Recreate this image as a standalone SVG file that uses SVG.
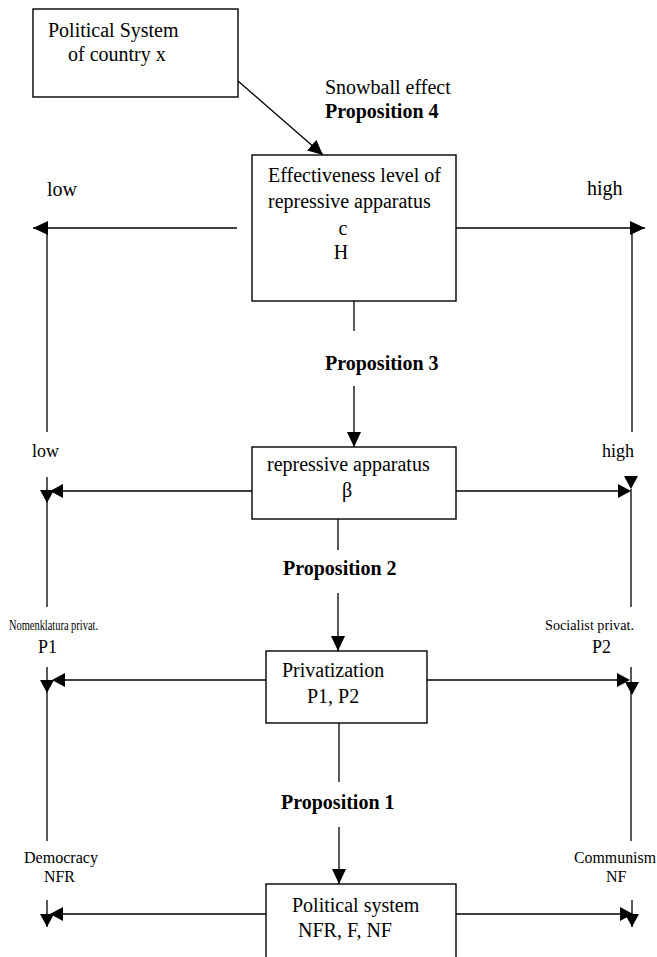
<svg xmlns="http://www.w3.org/2000/svg" xmlns:xlink="http://www.w3.org/1999/xlink" width="657" height="957" viewBox="0 0 657 957">
<style>
  .bx{fill:#fff;stroke:#000;stroke-width:1.4}
  .ln{fill:none;stroke:#000;stroke-width:1.3}
  .t{font-family:"Liberation Serif","Times New Roman",serif;font-size:20px;fill:#000}
  .b{font-weight:bold}
  .s18{font-size:18px}
  .s16{font-size:16px}
  .s14{font-size:14px}
  .tri{fill:#000}
</style>
<defs>
  <marker id="ah" viewBox="0 0 15 14" refX="15" refY="7" markerWidth="15" markerHeight="14" markerUnits="userSpaceOnUse" orient="auto">
    <path d="M0,0 L15,7 L0,14 Z" fill="#000"/>
  </marker>
  <path id="tri" d="M0,0 L-13,-7 L-13,7 Z"/>
</defs>

<g id="connectors">
  <line class="ln" x1="238" y1="81" x2="323" y2="155" marker-end="url(#ah)"/>
  <!-- row 1 -->
  <line class="ln" x1="237" y1="228" x2="33" y2="228" marker-end="url(#ah)"/>
  <line class="ln" x1="47" y1="228" x2="47" y2="432"/>
  <line class="ln" x1="456" y1="228" x2="645" y2="228" marker-end="url(#ah)"/>
  <line class="ln" x1="632" y1="228" x2="632" y2="432"/>
  <!-- center verticals -->
  <line class="ln" x1="354" y1="301" x2="354" y2="331"/>
  <line class="ln" x1="354" y1="386" x2="354" y2="447" marker-end="url(#ah)"/>
  <line class="ln" x1="338" y1="519" x2="338" y2="550"/>
  <line class="ln" x1="338" y1="593" x2="338" y2="651" marker-end="url(#ah)"/>
  <line class="ln" x1="339" y1="723" x2="339" y2="782"/>
  <line class="ln" x1="339" y1="827" x2="339" y2="884" marker-end="url(#ah)"/>
  <!-- row 2 -->
  <line class="ln" x1="252" y1="491" x2="60" y2="491"/>
  <line class="ln" x1="47" y1="477" x2="47" y2="607"/>
  <use xlink:href="#tri" class="tri" transform="translate(50,491) rotate(180)"/>
  <use xlink:href="#tri" class="tri" transform="translate(47,503) rotate(90)"/>
  <line class="ln" x1="456" y1="491" x2="620" y2="491"/>
  <line class="ln" x1="631" y1="489" x2="631" y2="607"/>
  <use xlink:href="#tri" class="tri" transform="translate(631,491)"/>
  <use xlink:href="#tri" class="tri" transform="translate(631,489) rotate(90)"/>
  <!-- row 3 -->
  <line class="ln" x1="266" y1="680" x2="60" y2="680"/>
  <line class="ln" x1="47" y1="667" x2="47" y2="841"/>
  <use xlink:href="#tri" class="tri" transform="translate(52,680) rotate(180)"/>
  <use xlink:href="#tri" class="tri" transform="translate(47,693) rotate(90)"/>
  <line class="ln" x1="427" y1="680" x2="620" y2="680"/>
  <line class="ln" x1="631" y1="667" x2="631" y2="841"/>
  <use xlink:href="#tri" class="tri" transform="translate(630,680)"/>
  <use xlink:href="#tri" class="tri" transform="translate(632,695) rotate(90)"/>
  <!-- row 4 -->
  <line class="ln" x1="266" y1="914" x2="60" y2="914"/>
  <line class="ln" x1="47" y1="900" x2="47" y2="927"/>
  <use xlink:href="#tri" class="tri" transform="translate(50,914) rotate(180)"/>
  <use xlink:href="#tri" class="tri" transform="translate(47,927) rotate(90)"/>
  <line class="ln" x1="456" y1="914" x2="622" y2="914"/>
  <line class="ln" x1="632" y1="900" x2="632" y2="927"/>
  <use xlink:href="#tri" class="tri" transform="translate(633,914)"/>
  <use xlink:href="#tri" class="tri" transform="translate(632,927) rotate(90)"/>
</g>

<g id="labels">
  <text class="t" x="325" y="94">Snowball effect</text>
  <text class="t b" x="325" y="118">Proposition 4</text>
  <text class="t" x="47" y="196">low</text>
  <text class="t" x="587" y="195">high</text>
  <text class="t b" x="325" y="370">Proposition 3</text>
  <text class="t s18" x="32" y="457">low</text>
  <text class="t s18" x="602" y="457">high</text>
  <text class="t b" x="283" y="575">Proposition 2</text>
  <text class="t s14" x="9" y="630" textLength="89" lengthAdjust="spacingAndGlyphs">Nomenklatura privat.</text>
  <text class="t s18" x="38" y="653">P1</text>
  <text class="t s14" x="545" y="630" textLength="89" lengthAdjust="spacingAndGlyphs">Socialist privat.</text>
  <text class="t s18" x="592" y="653">P2</text>
  <text class="t b" x="281" y="809">Proposition 1</text>
  <text class="t s16" x="24" y="863" textLength="74" lengthAdjust="spacingAndGlyphs">Democracy</text>
  <text class="t s16" x="44" y="882" textLength="31" lengthAdjust="spacingAndGlyphs">NFR</text>
  <text class="t s16" x="574" y="863" textLength="82" lengthAdjust="spacingAndGlyphs">Communism</text>
  <text class="t s16" x="606" y="882">NF</text>
</g>

<g id="node-political-system-x">
  <rect class="bx" x="33" y="9" width="205" height="88"/>
  <text class="t" x="48" y="37">Political System</text>
  <text class="t" x="68" y="61">of country x</text>
</g>

<g id="node-effectiveness">
  <rect class="bx" x="252" y="155" width="204" height="146"/>
  <text class="t" x="268" y="182">Effectiveness level of</text>
  <text class="t" x="268" y="208">repressive apparatus</text>
  <text class="t" x="343" y="235" text-anchor="middle">c</text>
  <text class="t" x="341" y="259" text-anchor="middle">H</text>
</g>

<g id="node-repressive">
  <rect class="bx" x="252" y="447" width="204" height="72"/>
  <text class="t" x="267" y="471">repressive apparatus</text>
  <text class="t" x="347" y="497" text-anchor="middle" font-size="24">β</text>
</g>

<g id="node-privatization">
  <rect class="bx" x="266" y="651" width="161" height="72"/>
  <text class="t" x="282" y="677">Privatization</text>
  <text class="t" x="307" y="703">P1, P2</text>
</g>

<g id="node-political-system">
  <rect class="bx" x="266" y="884" width="190" height="90"/>
  <text class="t" x="292" y="912">Political system</text>
  <text class="t" x="298" y="937">NFR, F, NF</text>
</g>
</svg>
